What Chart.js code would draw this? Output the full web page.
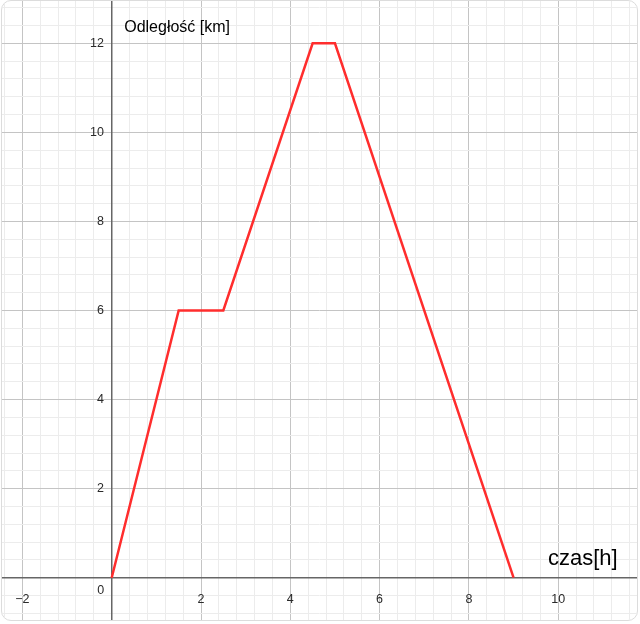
<!DOCTYPE html>
<html>
<head>
<meta charset="utf-8">
<script src="https://cdn.jsdelivr.net/npm/chart.js@4"></script>
<style>
  body { margin: 0; background: #fff; }
  #wrap {
    position: absolute; left: 1px; top: 0; width: 635px; height: 619px;
    border: 1px solid #dcdcdc; border-radius: 10px; overflow: hidden;
  }
  #myChart { position: absolute; left: -30px; top: -30px; }
</style>
</head>
<body>
<div id="wrap"><canvas id="myChart" width="695" height="679"></canvas></div>
<script>
const timeHours = [0, 1.5, 2.5, 4.5, 5, 9];
const distanceKm = [0, 6, 6, 12, 12, 0];
const xLabelValues = [-2, 2, 4, 6, 8, 10];
const yLabelValues = [2, 4, 6, 8, 10, 12];

// where the origin sits on the canvas and how many pixels one unit takes
const originX = 139.7;
const originY = 606.7;
const pxPerUnitX = 44.65;
const pxPerUnitY = 44.53;

const ctx = document.getElementById("myChart").getContext("2d");

const isMajor = (v) => Math.abs(Math.round(v * 10) % 20) === 0;
const fmt = (v) => (v < 0 ? "\u2212" + Math.abs(v) : String(v));
const font = "'Liberation Sans', Arial, sans-serif";
const labelColor = "#2a2a2a";

const axisTitles = {
  id: "axisTitles",
  afterDraw(chart) {
    const { ctx, scales } = chart;
    const x0 = scales.x.getPixelForValue(0);
    const y0 = scales.y.getPixelForValue(0);
    ctx.save();
    ctx.fillStyle = "#000";
    ctx.textBaseline = "alphabetic";
    ctx.textAlign = "left";
    ctx.font = "16px " + font;
    ctx.fillText("Odległość [km]", x0 + 12.5, 61);
    ctx.font = "22px " + font;
    ctx.textAlign = "right";
    ctx.fillText("czas[h]", x0 + 506, y0 - 13);
    // origin label sits left of the axis crossing
    ctx.fillStyle = labelColor;
    ctx.font = "12.5px " + font;
    ctx.textAlign = "center";
    ctx.textBaseline = "middle";
    ctx.fillText("0", x0 - 11, y0 + 12.5);
    ctx.restore();
  },
};

const gridColor = (c) => (isMajor(c.tick.value) ? "#c4c4c4" : "#ececec");

const myChart = new Chart(ctx, {
  type: "line",
  data: {
    datasets: [
      {
        label: "Odległość",
        data: timeHours.map((t, i) => ({ x: t, y: distanceKm[i] })),
        borderColor: "rgb(255, 45, 45)",
        borderWidth: 2.5,
        pointRadius: 0,
        tension: 0,
        fill: false,
      },
    ],
  },
  options: {
    responsive: false,
    animation: false,
    plugins: { legend: { display: false }, tooltip: { enabled: false } },
    scales: {
      x: {
        type: "linear",
        position: { y: 0 },
        min: -3,
        max: 12.5,
        grid: { drawTicks: false, color: gridColor, lineWidth: 1 },
        border: { color: "#666", width: 1.5 },
        ticks: { stepSize: 0.4, includeBounds: false, autoSkip: false, display: false },
      },
      y: {
        type: "linear",
        position: { x: 0 },
        min: -1.5,
        max: 13.5,
        grid: { drawTicks: false, color: gridColor, lineWidth: 1 },
        border: { color: "#666", width: 1.5 },
        ticks: { stepSize: 0.4, includeBounds: false, autoSkip: false, display: false },
      },
      // tick labels of the x axis, under the y = 0 line
      xLabels: {
        type: "linear",
        axis: "x",
        position: { y: 0 },
        min: -3,
        max: 12.5,
        grid: { display: false },
        border: { display: false },
        ticks: {
          stepSize: 2,
          includeBounds: false,
          autoSkip: false,
          maxRotation: 0,
          padding: 6,
          color: labelColor,
          font: { family: font, size: 12.5 },
          callback: (v) => (xLabelValues.includes(Math.round(v)) ? fmt(Math.round(v)) : ""),
        },
      },
      // tick labels of the y axis, set a little left of the x = 0 line
      yLabels: {
        type: "linear",
        axis: "y",
        position: { x: -0.175 },
        min: -1.5,
        max: 13.5,
        grid: { display: false },
        border: { display: false },
        ticks: {
          stepSize: 2,
          includeBounds: false,
          autoSkip: false,
          color: labelColor,
          font: { family: font, size: 12.5 },
          callback: (v) => (yLabelValues.includes(Math.round(v)) ? fmt(Math.round(v)) : ""),
        },
      },
    },
  },
  plugins: [axisTitles],
});

// set the ranges so the origin and unit size match the picture
for (let pass = 0; pass < 4; pass++) {
  const sx = myChart.scales.x;
  const sy = myChart.scales.y;
  const xs = myChart.options.scales;
  xs.x.min = xs.xLabels.min = (sx.getPixelForDecimal(0) - originX) / pxPerUnitX;
  xs.x.max = xs.xLabels.max = (sx.getPixelForDecimal(1) - originX) / pxPerUnitX;
  xs.y.min = xs.yLabels.min = (originY - sy.getPixelForDecimal(0)) / pxPerUnitY;
  xs.y.max = xs.yLabels.max = (originY - sy.getPixelForDecimal(1)) / pxPerUnitY;
  myChart.update();
}
</script>
</body>
</html>
